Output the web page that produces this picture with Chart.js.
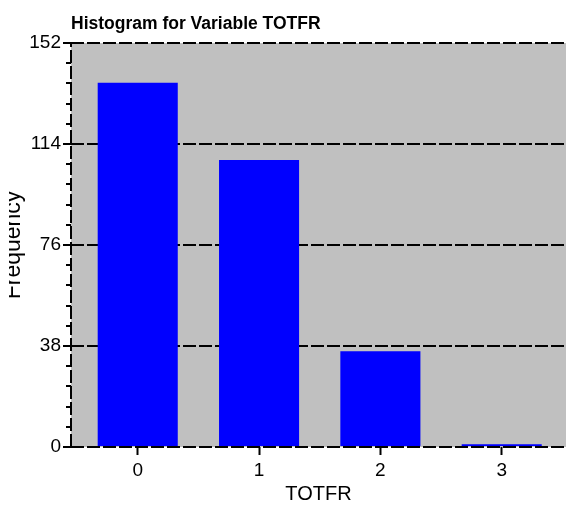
<!DOCTYPE html>
<html>
<head>
<meta charset="utf-8">
<title>Histogram for Variable TOTFR</title>
<script src="https://cdn.jsdelivr.net/npm/chart.js@4.4.1/dist/chart.umd.min.js"></script>
<style>
  html, body { margin: 0; padding: 0; background: #fff; }
  #wrap { width: 566px; height: 508px; }
</style>
</head>
<body>
<div id="wrap"><canvas id="histChart" width="566" height="508"></canvas></div>
<script>
// --- Data ---
const categories = [0, 1, 2, 3];
const frequencies = [137, 108, 36, 1];
const yTicks = [0, 38, 76, 114, 152];
const minorPerMajor = 5;

const FONT = "'Liberation Sans', Arial, sans-serif";
const GRID_DASH = [13, 3];

// --- Plot background, dashed left axis, minor ticks, y title ---
const decorPlugin = {
  id: "decor",
  beforeDraw(chart) {
    const { ctx, chartArea: a } = chart;
    ctx.save();
    ctx.fillStyle = "#C0C0C0";
    ctx.fillRect(a.left, a.top, a.right - a.left, a.bottom - a.top);
    ctx.restore();
  },
  afterDraw(chart) {
    const { ctx, chartArea: a } = chart;
    const y = chart.scales.y;
    ctx.save();
    ctx.strokeStyle = "#000";
    ctx.lineWidth = 2;

    // dashed vertical axis line
    ctx.setLineDash(GRID_DASH);
    ctx.beginPath();
    ctx.moveTo(a.left, a.bottom);
    ctx.lineTo(a.left, a.top);
    ctx.stroke();

    // minor ticks
    ctx.setLineDash([]);
    const step = (yTicks[1] - yTicks[0]) / minorPerMajor;
    for (let i = 0; i < yTicks.length - 1; i++) {
      for (let k = 1; k < minorPerMajor; k++) {
        const py = Math.round(y.getPixelForValue(yTicks[i] + k * step));
        ctx.beginPath();
        ctx.moveTo(a.left - 5, py);
        ctx.lineTo(a.left, py);
        ctx.stroke();
      }
    }

    // y axis title, its top cut off like the original
    ctx.beginPath();
    ctx.rect(9, a.top, 40, a.bottom - a.top);
    ctx.clip();
    ctx.translate(20, (a.top + a.bottom) / 2);
    ctx.rotate(-Math.PI / 2);
    ctx.fillStyle = "#000";
    ctx.font = `23px ${FONT}`;
    ctx.textAlign = "center";
    ctx.textBaseline = "alphabetic";
    ctx.fillText("Frequency", 0, 0);
    ctx.restore();
  }
};

new Chart(document.getElementById("histChart"), {
  type: "bar",
  data: {
    datasets: [{
      data: categories.map((c, i) => ({ x: c, y: frequencies[i] })),
      backgroundColor: "#0000FF",
      borderWidth: 0,
      barPercentage: 0.66,
      categoryPercentage: 1.0,
    }],
  },
  options: {
    responsive: false,
    animation: false,
    devicePixelRatio: 1,
    layout: { padding: 0 },
    plugins: {
      legend: { display: false },
      tooltip: { enabled: false },
      title: {
        display: true,
        text: "Histogram for Variable TOTFR",
        align: "start",
        fullSize: false,
        color: "#000",
        font: { family: FONT, size: 17.5, weight: "bold" },
        padding: { top: 14, bottom: 8 },
      },
    },
    scales: {
      x: {
        type: "linear",
        offset: false,
        min: -0.55,
        max: 3.53,
        afterBuildTicks: (s) => { s.ticks = categories.map(v => ({ value: v })); },
        afterFit: (s) => { s.height = 61; },
        grid: {
          offset: false,
          drawOnChartArea: false,
          drawTicks: true,
          tickLength: 8,
          tickWidth: 2,
          tickColor: "#000",
          color: "#000",
        },
        border: { display: false },
        ticks: {
          color: "#000",
          padding: 4,
          maxRotation: 0,
          autoSkip: false,
          font: { family: FONT, size: 19 },
        },
        title: {
          display: true,
          text: "TOTFR",
          color: "#000",
          font: { family: FONT, size: 20 },
          padding: { top: 0, bottom: 2 },
        },
      },
      y: {
        min: yTicks[0],
        max: yTicks[yTicks.length - 1],
        afterBuildTicks: (s) => { s.ticks = yTicks.map(v => ({ value: v })); },
        afterFit: (s) => { s.width = 71; },
        grid: {
          color: "#000",
          lineWidth: 2,
          drawTicks: true,
          tickLength: 8,
          tickColor: "#000",
          tickWidth: 2,
        },
        border: { display: false, dash: GRID_DASH },
        ticks: {
          color: "#000",
          padding: 2,
          font: { family: FONT, size: 19 },
        },
      },
    },
  },
  plugins: [decorPlugin],
});
</script>
</body>
</html>
